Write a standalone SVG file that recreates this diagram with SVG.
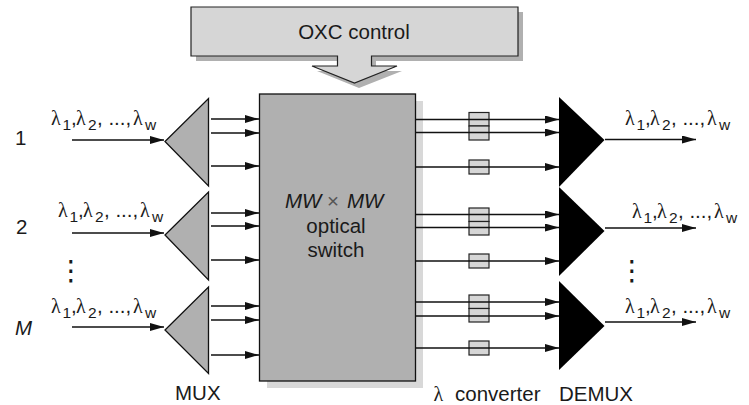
<svg xmlns="http://www.w3.org/2000/svg" width="749" height="405" viewBox="0 0 749 405">
<style>
text{font-family:"Liberation Sans",Arial,sans-serif;fill:#1a1a1a;font-size:20.500px}
.s{font-size:15.500px}
.g{font-family:"Liberation Serif","DejaVu Serif",serif;font-size:20px}
.i{font-style:italic}
.o{fill:#555}
.d{font-family:"DejaVu Sans",sans-serif;font-size:28px;text-anchor:middle}
.w{stroke:#111;stroke-width:1.3;fill:none;marker-end:url(#a)}
.c{fill:#d6d6d6;stroke:#222;stroke-width:1.2}
.m{fill:#b0b0b0;stroke:#111;stroke-width:1.3}
</style>
<defs>
<marker id="a" markerUnits="userSpaceOnUse" markerWidth="14" markerHeight="8" refX="14" refY="4" orient="auto"><path d="M0 0L14 4L0 8z" fill="#111"/></marker>
</defs>
<g id="control">
<path d="M196 12H523V61H376V71H402L359 88L317 71H343V61H196z" fill="#b0b0b0"/>
<path class="c" d="M191 7H518V56H371.500V66H397L354.500 83L312 66H337.500V56H191z"/>
<text x="354" y="38.500" text-anchor="middle">OXC control</text>
</g>
<g id="switch">
<rect x="267" y="101" width="156" height="287" fill="#d8d8d8"/>
<rect class="m" x="259.500" y="94" width="156" height="287"/>
<text y="208"><tspan class="i" x="285">MW</tspan><tspan class="o" x="327">×</tspan><tspan class="i" x="347">MW</tspan></text>
<text x="336" y="232.500" text-anchor="middle">optical</text>
<text x="336" y="256.500" text-anchor="middle">switch</text>
</g>
<g id="mux1"><path class="m" d="M208.500 98.500V186L165 141.500z"/></g>
<g id="mux2"><path class="m" d="M208.500 192V280L165 235z"/></g>
<g id="mux3"><path class="m" d="M208.500 287V373.500L165 330z"/></g>
<g id="demux1"><path d="M559 97L604.500 140L559 187z" fill="#000"/></g>
<g id="demux2"><path d="M559 187L604.500 231L559 276z" fill="#000"/></g>
<g id="demux3"><path d="M559 281L604.500 326L559 370z" fill="#000"/></g>
<g id="converters">
<rect class="c" x="469" y="112.500" width="20" height="13.500"/><rect class="c" x="469" y="126" width="20" height="14"/><rect class="c" x="469" y="160" width="20" height="14"/>
<rect class="c" x="469" y="208" width="20" height="13.500"/><rect class="c" x="469" y="221.500" width="20" height="13.500"/><rect class="c" x="469" y="254" width="20" height="14"/>
<rect class="c" x="469" y="295" width="20" height="13.500"/><rect class="c" x="469" y="308.500" width="20" height="13.500"/><rect class="c" x="469" y="341" width="20" height="14"/>
</g>
<g id="connectors">
<path class="w" d="M72 140H164"/><path class="w" d="M72 233H164"/><path class="w" d="M72 327H164"/>
<path class="w" d="M211 119H259"/><path class="w" d="M211 133H259"/><path class="w" d="M211 166H259"/>
<path class="w" d="M211 213H259"/><path class="w" d="M211 226H259"/><path class="w" d="M211 260H259"/>
<path class="w" d="M211 306H259"/><path class="w" d="M211 320H259"/><path class="w" d="M211 355H259"/>
<path class="w" d="M416 119.500H559"/><path class="w" d="M416 132.500H559"/><path class="w" d="M416 167H559"/>
<path class="w" d="M416 214.500H559"/><path class="w" d="M416 227.500H559"/><path class="w" d="M416 261H559"/>
<path class="w" d="M416 302H559"/><path class="w" d="M416 316H559"/><path class="w" d="M416 348H559"/>
<path class="w" d="M605 139.500H696"/><path class="w" d="M605 228H696"/><path class="w" d="M605 322H696"/>
</g>
<g id="labels">
<text transform="translate(51 125)"><tspan class="g" x="0" y="0">λ</tspan><tspan class="s" x="11.500" y="5">1</tspan><tspan x="20" y="0">,</tspan><tspan class="g" x="25" y="0">λ</tspan><tspan class="s" x="37" y="5">2</tspan><tspan x="46" y="0">, ...,</tspan><tspan class="g" x="82" y="0">λ</tspan><tspan class="s" x="94" y="5">w</tspan></text>
<text transform="translate(58 217)"><tspan class="g" x="0" y="0">λ</tspan><tspan class="s" x="11.500" y="5">1</tspan><tspan x="20" y="0">,</tspan><tspan class="g" x="25" y="0">λ</tspan><tspan class="s" x="37" y="5">2</tspan><tspan x="46" y="0">, ...,</tspan><tspan class="g" x="82" y="0">λ</tspan><tspan class="s" x="94" y="5">w</tspan></text>
<text transform="translate(51 313)"><tspan class="g" x="0" y="0">λ</tspan><tspan class="s" x="11.500" y="5">1</tspan><tspan x="20" y="0">,</tspan><tspan class="g" x="25" y="0">λ</tspan><tspan class="s" x="37" y="5">2</tspan><tspan x="46" y="0">, ...,</tspan><tspan class="g" x="82" y="0">λ</tspan><tspan class="s" x="94" y="5">w</tspan></text>
<text transform="translate(625 125)"><tspan class="g" x="0" y="0">λ</tspan><tspan class="s" x="11.500" y="5">1</tspan><tspan x="20" y="0">,</tspan><tspan class="g" x="25" y="0">λ</tspan><tspan class="s" x="37" y="5">2</tspan><tspan x="46" y="0">, ...,</tspan><tspan class="g" x="82" y="0">λ</tspan><tspan class="s" x="94" y="5">w</tspan></text>
<text transform="translate(632 218)"><tspan class="g" x="0" y="0">λ</tspan><tspan class="s" x="11.500" y="5">1</tspan><tspan x="20" y="0">,</tspan><tspan class="g" x="25" y="0">λ</tspan><tspan class="s" x="37" y="5">2</tspan><tspan x="46" y="0">, ...,</tspan><tspan class="g" x="82" y="0">λ</tspan><tspan class="s" x="94" y="5">w</tspan></text>
<text transform="translate(625 313)"><tspan class="g" x="0" y="0">λ</tspan><tspan class="s" x="11.500" y="5">1</tspan><tspan x="20" y="0">,</tspan><tspan class="g" x="25" y="0">λ</tspan><tspan class="s" x="37" y="5">2</tspan><tspan x="46" y="0">, ...,</tspan><tspan class="g" x="82" y="0">λ</tspan><tspan class="s" x="94" y="5">w</tspan></text>
<text x="15" y="144.500">1</text><text x="16" y="234">2</text><text class="i" x="15" y="335">M</text>
<text class="d" x="71" y="280">⋮</text>
<text class="d" x="632" y="280">⋮</text>
<text x="175" y="400">MUX</text>
<text class="g" x="433.500" y="400.500">λ</text><text x="455" y="400.500">converter</text><text x="559" y="400.500">DEMUX</text>
</g>
</svg>
